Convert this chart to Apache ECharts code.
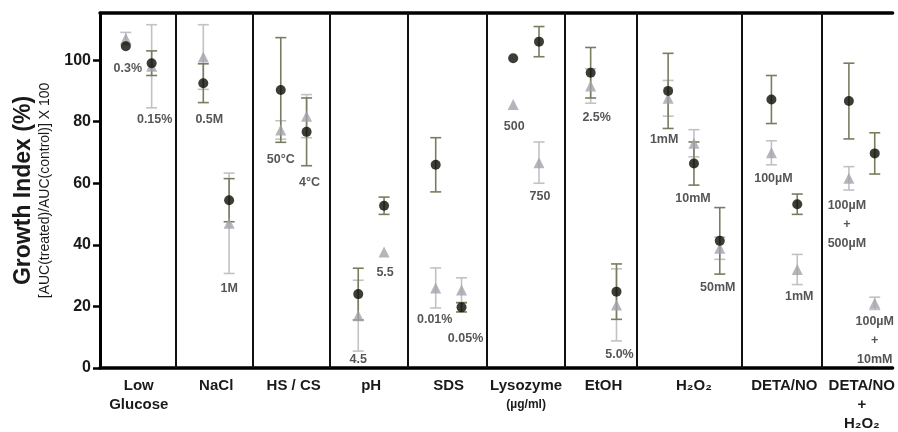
<!DOCTYPE html>
<html>
<head>
<meta charset="utf-8">
<script src="https://cdn.jsdelivr.net/npm/echarts@6/dist/echarts.min.js"></script>
<style>
html,body{margin:0;padding:0;background:#fff;}
#chart{width:898px;height:432px;}
</style>
</head>
<body>
<div id="chart"></div>
<script>
// ---- data ----
const groups = ['Low\nGlucose', 'NaCl', 'HS / CS', 'pH', 'SDS', 'Lysozyme\n(µg/ml)', 'EtOH', 'H₂O₂', 'DETA/NO', 'DETA/NO\n+\nH₂O₂'];
const groupSizes = [2, 2, 2, 2, 2, 2, 2, 3, 2, 2];
const conditions = ['0.3%', '0.15%', '0.5M', '1M', '50°C', '4°C', '4.5', '5.5', '0.01%', '0.05%',
  '500', '750', '2.5%', '5.0%', '1mM', '10mM', '50mM', '100µM', '1mM', '100µM\n+\n500µM', '100µM\n+\n10mM'];
const blackMean = [104.5, 99, 92.5, 54.5, 90.3, 76.7, 24, 52.7, 66, 19.7, 100.6, 106, 95.9, 24.8, 90, 66.4, 41.3, 87.2, 53.2, 86.7, 69.7];
const blackErr  = [0, 4, 6.3, 7, 17, 11, 8.4, 2.8, 8.8, 1.5, 0, 4.9, 8.2, 9, 12.2, 7, 10.8, 7.8, 3.3, 12.3, 6.7];
const grayMean  = [107, 98, 101, 47, 77.3, 81.8, 17, 37.7, 26, 25.3, 85.6, 66.7, 91.6, 20.5, 87.6, 73, 38.9, 69.9, 32, 61.6, 21];
const grayErr   = [2, 13.5, 10.5, 16.3, 3, 7, 11.5, 0, 6.5, 4, 0, 6.7, 5.6, 11.7, 5.8, 4.4, 3.6, 3.9, 4.9, 3.8, 2];
const yTicks = [0, 20, 40, 60, 80, 100];

// ---- layout (not data) ----
const dividers = [2.95, 5.92, 8.91, 11.92, 14.96, 17.99, 20.77, 24.85, 27.96];
const labelOffsets = [[2,22],[3,56],[6,36],[0,88],[0,70],[3,51],[0,65],[1,67],[-1,155],[4,31],
  [1,68],[1,155],[6,45],[3,63],[-4,49],[-1,35],[-2,47],[2,79],[2,92],[-2,123],[0,187]];

// slot positions derived from group sizes
const condX = [];
const groupCenters = [];
let start = 0;
groupSizes.forEach(n => {
  for (let k = 1; k <= n; k++) condX.push(start + k);
  groupCenters.push(start + (n + 1) / 2);
  start += n + 1;
});

const FONT = '"Liberation Sans", Arial, sans-serif';

function errSeries(mean, err, color, name) {
  return {
    type: 'custom', name: name,
    xAxisIndex: 0, yAxisIndex: 0,
    data: mean.map((m, i) => [condX[i], m - err[i], m + err[i]]),
    encode: { x: 0, y: [1, 2] },
    silent: true,
    renderItem: function (params, api) {
      const x = api.value(0);
      if (api.value(2) - api.value(1) <= 0) return null;
      const lo = api.coord([x, api.value(1)]);
      const hi = api.coord([x, api.value(2)]);
      const w = 5.5;
      const st = { stroke: color, lineWidth: 1.6, fill: null };
      return {
        type: 'group',
        children: [
          { type: 'line', shape: { x1: lo[0], y1: lo[1], x2: hi[0], y2: hi[1] }, style: st },
          { type: 'line', shape: { x1: lo[0] - w, y1: lo[1], x2: lo[0] + w, y2: lo[1] }, style: st },
          { type: 'line', shape: { x1: hi[0] - w, y1: hi[1], x2: hi[0] + w, y2: hi[1] }, style: st }
        ]
      };
    }
  };
}

function groupLabel(v) {
  for (let i = 0; i < groupCenters.length; i++) {
    if (Math.abs(groupCenters[i] - v) < 1e-6) {
      return groups[i].split('\n').map(line =>
        line.charAt(0) === '(' ? '{u|' + line + '}' : '{b|' + line + '}'
      ).join('\n');
    }
  }
  return '';
}

const chart = echarts.init(document.getElementById('chart'), null, { renderer: 'canvas' });
chart.setOption({
  animation: false,
  backgroundColor: '#fff',
  grid: { left: 100, right: 0, top: 13, bottom: 64 },
  xAxis: [{
    type: 'value', position: 'bottom', min: 0, max: 30.69, interval: 0.5,
    axisLine: { show: true, lineStyle: { color: '#000', width: 3.5 } },
    axisTick: { show: false },
    splitLine: { show: false },
    axisLabel: {
      show: true, margin: 8, showMinLabel: true, showMaxLabel: true,
      formatter: groupLabel,
      rich: {
        b: { fontFamily: FONT, fontSize: 15, fontWeight: 'bold', color: '#1a1a1a', lineHeight: 19 },
        u: { fontFamily: FONT, fontSize: 12, fontWeight: 'bold', color: '#1a1a1a', lineHeight: 20 }
      }
    }
  }, {
    type: 'value', position: 'top', min: 0, max: 30.69,
    axisLine: { show: true, lineStyle: { color: '#000', width: 3.5 } },
    axisTick: { show: false }, axisLabel: { show: false }, splitLine: { show: false }
  }],
  yAxis: {
    type: 'value', min: 0, max: 115.3, interval: 20,
    axisLine: { show: true, lineStyle: { color: '#000', width: 3 } },
    axisTick: { show: true, length: 7, customValues: yTicks, lineStyle: { color: '#000', width: 2.5 } },
    splitLine: { show: false },
    axisLabel: {
      customValues: yTicks, margin: 9,
      fontFamily: FONT, fontSize: 16, fontWeight: 'bold', color: '#1a1a1a'
    },
    name: '{a|Growth Index (%)}\n{c|[AUC(treated)/AUC(control)] X 100}',
    nameLocation: 'middle', nameRotate: 90, nameGap: 46,
    nameTextStyle: {
      rich: {
        a: { fontFamily: FONT, fontSize: 23, fontWeight: 'bold', color: '#1a1a1a', lineHeight: 24 },
        c: { fontFamily: FONT, fontSize: 14, color: '#1a1a1a', lineHeight: 18 }
      }
    }
  },
  series: [
    errSeries(grayMean, grayErr, '#c2c2c4', 'grayErr'),
    errSeries(blackMean, blackErr, '#7b7b60', 'blackErr'),
    {
      type: 'scatter', name: 'gray', symbol: 'triangle', symbolSize: 11,
      itemStyle: { color: '#a2a2aa' }, silent: true,
      data: grayMean.map((m, i) => [condX[i], m])
    },
    {
      type: 'scatter', name: 'black', symbol: 'circle', symbolSize: 10,
      itemStyle: { color: '#0d0d05' }, silent: true,
      data: blackMean.map((m, i) => [condX[i], m]),
      markLine: {
        silent: true, symbol: ['none', 'none'], animation: false,
        label: { show: false },
        lineStyle: { color: '#111', width: 2, type: 'solid' },
        emphasis: { disabled: true },
        data: dividers.map(v => ({ xAxis: v }))
      }
    },
    {
      type: 'scatter', name: 'labels', symbolSize: 1, silent: true,
      itemStyle: { color: 'rgba(0,0,0,0)' },
      data: blackMean.map((m, i) => ({
        value: [condX[i], m],
        label: { offset: labelOffsets[i] }
      })),
      label: {
        show: true, position: 'inside',
        formatter: p => conditions[p.dataIndex],
        fontFamily: FONT, fontSize: 12.5, fontWeight: 'bold', color: '#2a2a2a', lineHeight: 19
      }
    }
  ]
});
</script>
</body>
</html>
